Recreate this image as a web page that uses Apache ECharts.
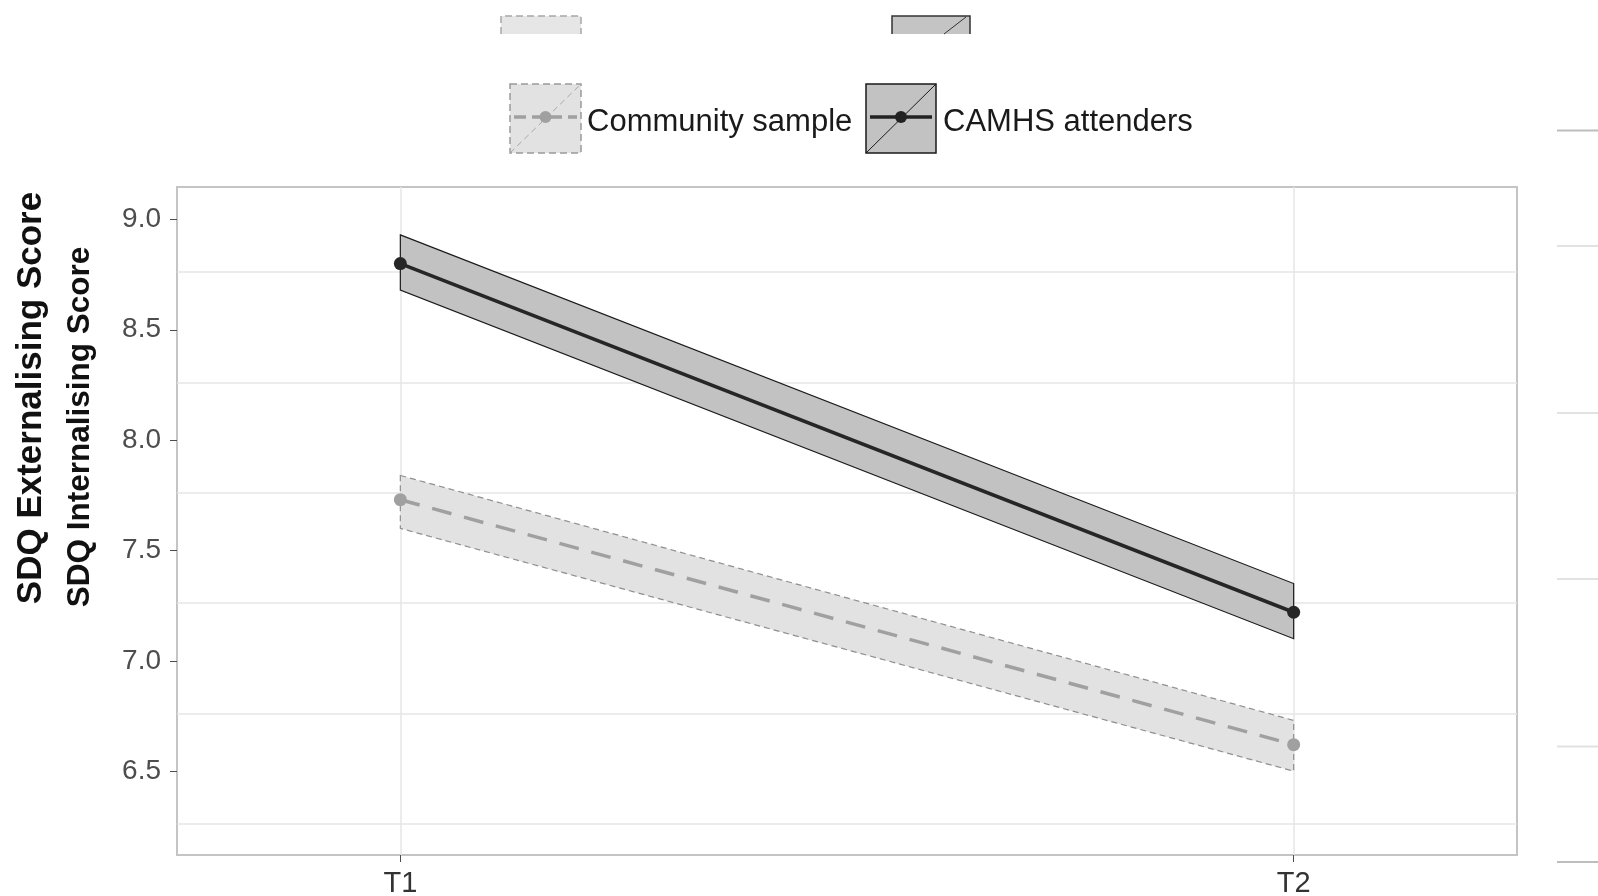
<!DOCTYPE html>
<html>
<head>
<meta charset="utf-8">
<script src="https://cdn.jsdelivr.net/npm/echarts@6/dist/echarts.min.js"></script>
<style>
html,body{margin:0;padding:0;background:#fff;}
#chart{width:1598px;height:896px;}
</style>
</head>
<body>
<div id="chart"></div>
<script>
// ---- data ----
const timeLabels = ['T1', 'T2'];
const timeX = [1, 2];
const seriesNames = ['Community sample', 'CAMHS attenders'];
const communityMean = [7.73, 6.62];
const communityLower = [7.60, 6.50];
const communityUpper = [7.84, 6.73];
const camhsMean = [8.80, 7.22];
const camhsLower = [8.68, 7.10];
const camhsUpper = [8.93, 7.35];
const yTicks = [6.5, 7.0, 7.5, 8.0, 8.5, 9.0];
const yGridLines = [6.262, 6.762, 7.262, 7.762, 8.262, 8.762];
const yTitleOuter = 'SDQ Externalising Score';
const yTitleInner = 'SDQ Internalising Score';

const FONT = '"Liberation Sans", Arial, Helvetica, sans-serif';

function pairs(xs, ys) { return xs.map((x, i) => [x, ys[i]]); }

function bandRenderer(lower, upper, style) {
  return function (params, api) {
    const pts = [];
    for (let i = 0; i < timeX.length; i++) pts.push(api.coord([timeX[i], upper[i]]));
    for (let i = timeX.length - 1; i >= 0; i--) pts.push(api.coord([timeX[i], lower[i]]));
    return { type: 'polygon', shape: { points: pts }, style: style };
  };
}

const chart = echarts.init(document.getElementById('chart'), null, { renderer: 'canvas' });

const legendGraphics = [
  // ghost legend fragments at the top (cropped)
  { type: 'rect', shape: { x: 501, y: 16, width: 80, height: 18 }, style: { fill: '#e6e6e6' }, z: 1 },
  { type: 'polyline', shape: { points: [[501, 34], [501, 16], [581, 16], [581, 34]] }, style: { stroke: '#a8a8a8', lineWidth: 1.5, lineDash: [7, 4], fill: null }, z: 2 },
  { type: 'rect', shape: { x: 892, y: 16, width: 78, height: 18 }, style: { fill: '#c4c4c4' }, z: 1 },
  { type: 'polyline', shape: { points: [[892, 34], [892, 16], [970, 16], [970, 34]] }, style: { stroke: '#333', lineWidth: 1.5, fill: null }, z: 2 },
  { type: 'line', shape: { x1: 944, y1: 34, x2: 966, y2: 17 }, style: { stroke: '#333', lineWidth: 1 }, z: 2 },

  // community key
  { type: 'rect', shape: { x: 510, y: 84, width: 71, height: 69 }, style: { fill: '#e2e2e2', stroke: '#9a9a9a', lineWidth: 1.5, lineDash: [7, 4] }, z: 1 },
  { type: 'line', shape: { x1: 510, y1: 153, x2: 581, y2: 84 }, style: { stroke: '#a8a8a8', lineWidth: 1, lineDash: [6, 4] }, z: 2 },
  { type: 'line', shape: { x1: 514, y1: 117, x2: 577, y2: 117 }, style: { stroke: '#a0a0a0', lineWidth: 3.5, lineDash: [12, 6] }, z: 3 },
  { type: 'circle', shape: { cx: 545.5, cy: 117, r: 6 }, style: { fill: '#a0a0a0' }, z: 4 },
  { type: 'text', x: 587, y: 122, style: { text: seriesNames[0], font: '31px ' + FONT, fill: '#1a1a1a', textAlign: 'left', textVerticalAlign: 'middle' }, z: 4 },

  // CAMHS key
  { type: 'rect', shape: { x: 866, y: 84, width: 70, height: 69 }, style: { fill: '#c2c2c2', stroke: '#1a1a1a', lineWidth: 1.5 }, z: 1 },
  { type: 'line', shape: { x1: 866, y1: 153, x2: 936, y2: 84 }, style: { stroke: '#1a1a1a', lineWidth: 1 }, z: 2 },
  { type: 'line', shape: { x1: 870, y1: 117, x2: 932, y2: 117 }, style: { stroke: '#222', lineWidth: 3.5 }, z: 3 },
  { type: 'circle', shape: { cx: 901, cy: 117, r: 6 }, style: { fill: '#222' }, z: 4 },
  { type: 'text', x: 943, y: 122, style: { text: seriesNames[1], font: '31px ' + FONT, fill: '#1a1a1a', textAlign: 'left', textVerticalAlign: 'middle' }, z: 4 },

  // y-axis titles
  { type: 'text', x: 31, y: 398, rotation: Math.PI / 2, style: { text: yTitleOuter, font: 'bold 35px ' + FONT, fill: '#111', textAlign: 'center', textVerticalAlign: 'middle' }, z: 4 },
  { type: 'text', x: 80, y: 427, rotation: Math.PI / 2, style: { text: yTitleInner, font: 'bold 31.5px ' + FONT, fill: '#111', textAlign: 'center', textVerticalAlign: 'middle' }, z: 4 },

  // fragments of a neighbouring panel on the right edge
  { type: 'line', shape: { x1: 1557, y1: 130.5, x2: 1598, y2: 130.5 }, style: { stroke: '#bdbdbd', lineWidth: 2 } },
  { type: 'line', shape: { x1: 1557, y1: 246, x2: 1598, y2: 246 }, style: { stroke: '#e2e2e2', lineWidth: 2 } },
  { type: 'line', shape: { x1: 1557, y1: 413, x2: 1598, y2: 413 }, style: { stroke: '#e2e2e2', lineWidth: 2 } },
  { type: 'line', shape: { x1: 1557, y1: 579, x2: 1598, y2: 579 }, style: { stroke: '#e2e2e2', lineWidth: 2 } },
  { type: 'line', shape: { x1: 1557, y1: 746.5, x2: 1598, y2: 746.5 }, style: { stroke: '#e2e2e2', lineWidth: 2 } },
  { type: 'line', shape: { x1: 1557, y1: 862, x2: 1598, y2: 862 }, style: { stroke: '#bdbdbd', lineWidth: 2 } }
];

const option = {
  backgroundColor: '#ffffff',
  animation: false,
  grid: {
    left: 177, right: 81, top: 187, bottom: 41,
    containLabel: false, outerBoundsMode: 'none',
    show: true, borderColor: '#c4c4c4', borderWidth: 2, backgroundColor: '#ffffff'
  },
  xAxis: {
    type: 'value', min: 0.75, max: 2.25,
    axisLine: { show: false },
    axisTick: { show: true, length: 7, customValues: timeX, lineStyle: { color: '#4d4d4d', width: 1 } },
    axisLabel: {
      customValues: timeX, margin: 14,
      formatter: v => timeLabels[timeX.indexOf(v)] || '',
      fontSize: 29, fontFamily: FONT, color: '#333333'
    },
    splitLine: { show: true, lineStyle: { color: '#e6e6e6', width: 1.5 } }
  },
  yAxis: [
    {
      type: 'value', min: 6.12, max: 9.147, position: 'left',
      axisLine: { show: false },
      axisTick: { show: true, length: 7, customValues: yTicks, lineStyle: { color: '#4d4d4d', width: 1 } },
      axisLabel: {
        customValues: yTicks, margin: 16,
        formatter: v => v.toFixed(1),
        fontSize: 28, fontFamily: FONT, color: '#4d4d4d'
      },
      splitLine: { show: false }
    },
    {
      type: 'value', min: 6.12, max: 9.147, position: 'left',
      axisLine: { show: false },
      axisTick: { show: false, customValues: yGridLines },
      axisLabel: { show: false, customValues: yGridLines },
      splitLine: { show: true, lineStyle: { color: '#e6e6e6', width: 1.5 } }
    }
  ],
  graphic: legendGraphics,
  series: [
    {
      type: 'custom', name: seriesNames[0] + ' band', yAxisIndex: 0,
      renderItem: bandRenderer(communityLower, communityUpper,
        { fill: '#e2e2e2', stroke: '#8f8f8f', lineWidth: 1.2, lineDash: [6, 4] }),
      data: [[timeX[0], communityLower[0]]], z: 2, silent: true
    },
    {
      type: 'custom', name: seriesNames[1] + ' band', yAxisIndex: 0,
      renderItem: bandRenderer(camhsLower, camhsUpper,
        { fill: '#c2c2c2', stroke: '#1a1a1a', lineWidth: 1.2 }),
      data: [[timeX[0], camhsLower[0]]], z: 2, silent: true
    },
    {
      type: 'line', name: seriesNames[0], yAxisIndex: 0,
      data: pairs(timeX, communityMean),
      symbol: 'circle', symbolSize: 13,
      lineStyle: { color: '#a0a0a0', width: 3.5, type: [20, 13] },
      itemStyle: { color: '#a0a0a0' }, z: 5
    },
    {
      type: 'line', name: seriesNames[1], yAxisIndex: 0,
      data: pairs(timeX, camhsMean),
      symbol: 'circle', symbolSize: 13,
      lineStyle: { color: '#262626', width: 3.5 },
      itemStyle: { color: '#262626' }, z: 5
    }
  ]
};
chart.setOption(option);
</script>
</body>
</html>
